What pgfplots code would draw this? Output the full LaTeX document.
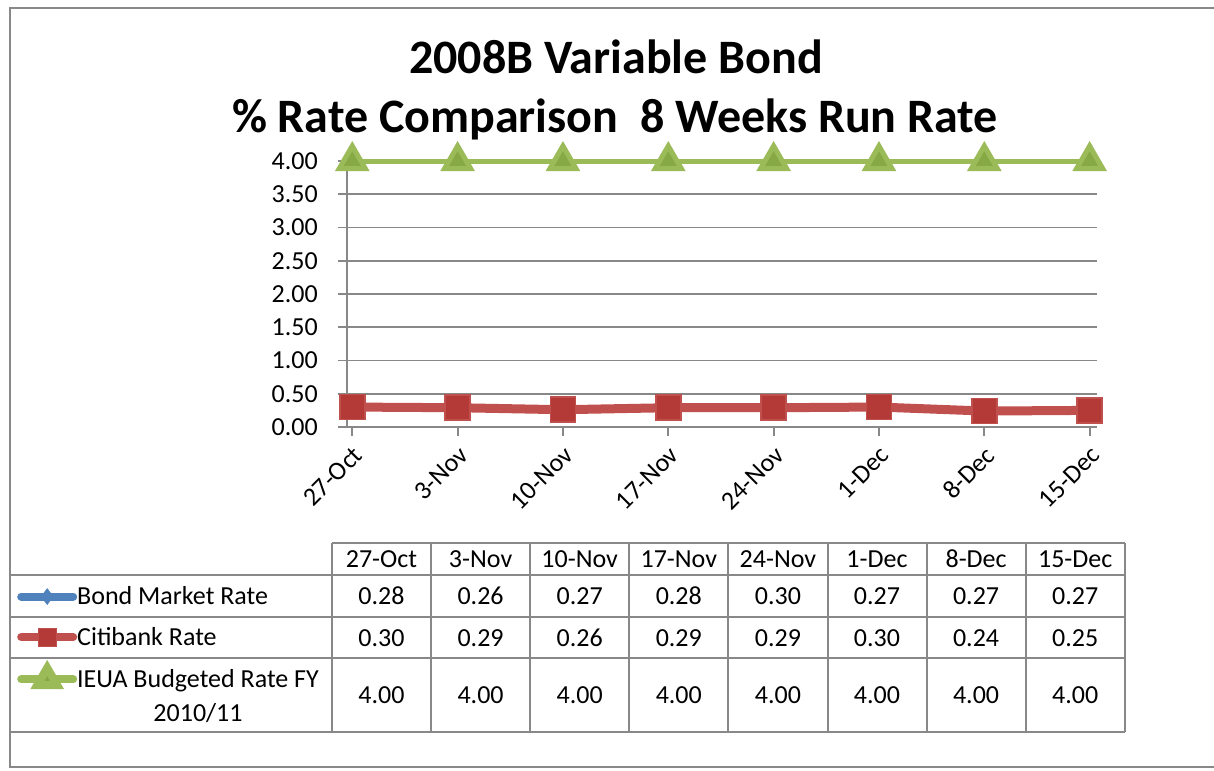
\documentclass[border=0pt]{standalone}
\usepackage{pgfplots}
\pgfplotsset{compat=1.18}
\usepackage{fontspec}
\setmainfont{Carlito}
\definecolor{ser1}{HTML}{4F81BD}
\definecolor{ser2}{HTML}{C0504D}
\definecolor{ser2d}{HTML}{B33A37}
\definecolor{ser3}{HTML}{9BBB59}
\definecolor{ser3d}{HTML}{86A845}
\definecolor{gridc}{HTML}{888888}
\newcommand{\fs}{\fontsize{26bp}{34bp}\selectfont}
\newcommand{\tfs}{\fontsize{48bp}{56bp}\selectfont\bfseries}

\pgfplotstableread{
x bond citi ieua
0 0.28 0.30 4.00
1 0.26 0.29 4.00
2 0.27 0.26 4.00
3 0.28 0.29 4.00
4 0.30 0.29 4.00
5 0.27 0.30 4.00
6 0.27 0.24 4.00
7 0.27 0.25 4.00
}\rates

\begin{document}
\begin{tikzpicture}
\useasboundingbox (0,0) rectangle (1214bp,-771bp);
\begin{scope}[x=1bp,y=-1bp]
  % outer frame
  \draw[gridc, line width=1.8bp] (10,8) rectangle (1225,767);
  % title
  \node[anchor=base, inner sep=0pt] at (616,73) {\tfs 2008B Variable Bond};
  \node[anchor=base, inner sep=0pt] at (615,132) {\tfs \% Rate Comparison\ \ 8 Weeks Run Rate};
  % table grid
  \begin{scope}[gridc, line width=1.8bp]
    \draw (332,543) -- (1125,543);
    \foreach \yy in {575,617,658,732} \draw (10,\yy) -- (1125,\yy);
    \foreach \xx in {332,431,530,629,728,828,927,1026,1125} \draw (\xx,543) -- (\xx,732);
  \end{scope}
  % table text
  \foreach \lab [count=\i from 0] in {27-Oct,3-Nov,10-Nov,17-Nov,24-Nov,1-Dec,8-Dec,15-Dec}
    \node[anchor=base, inner sep=0pt, font=\fs] at (381.5+99.1*\i,567) {\lab};
  \foreach \v [count=\i from 0] in {0.28,0.26,0.27,0.28,0.30,0.27,0.27,0.27}
    \node[anchor=base, inner sep=0pt, font=\fs] at (381.5+99.1*\i,604) {\v};
  \foreach \v [count=\i from 0] in {0.30,0.29,0.26,0.29,0.29,0.30,0.24,0.25}
    \node[anchor=base, inner sep=0pt, font=\fs] at (381.5+99.1*\i,646) {\v};
  \foreach \v [count=\i from 0] in {4.00,4.00,4.00,4.00,4.00,4.00,4.00,4.00}
    \node[anchor=base, inner sep=0pt, font=\fs] at (381.5+99.1*\i,703) {\v};
\end{scope}

\begin{axis}[
  at={(347bp,-427bp)}, anchor=south west,
  scale only axis, width=750bp, height=266bp,
  xmin=-0.05, xmax=7.07, ymin=0, ymax=4,
  axis x line*=bottom, axis y line*=left,
  axis line style={gridc, line width=1.8bp, -},
  ytick={0,0.5,1,1.5,2,2.5,3,3.5,4},
  ymajorgrids, grid style={gridc, line width=1.8bp},
  xtick={0,...,7},
  xticklabels={27-Oct,3-Nov,10-Nov,17-Nov,24-Nov,1-Dec,8-Dec,15-Dec},
  tick align=outside, major tick length=9bp,
  tick style={gridc, line width=1.8bp},
  /pgf/number format/assume math mode=true,
  yticklabel style={/pgf/number format/fixed, /pgf/number format/precision=2,
    /pgf/number format/fixed zerofill, font=\fs, inner sep=0pt, xshift=-20bp},
  xticklabel style={font=\fs, inner sep=0pt, xshift=6bp, yshift=-15bp, rotate=45, anchor=east},
  clip=false,
  legend image code/.code={\draw[mark repeat=2,mark phase=2,#1] plot coordinates {(0bp,0bp) (26bp,0bp) (52bp,0bp)};},
  legend style={at={(axis description cs:-0.44,-0.60)}, anchor=north west,
    draw=none, fill=none, font=\fs, inner sep=0pt, row sep=21bp,
    nodes={inner sep=0pt, align=center}},
  legend cell align=left,
]
\addlegendimage{ser1, line width=8bp, line cap=round, mark=diamond*, mark size=8bp, mark options={line width=0.5bp}}
\addlegendentry{Bond Market Rate}
\addlegendimage{ser2, line width=8bp, line cap=round, mark=square*, mark size=9bp, mark options={fill=ser2d, draw=ser2, line width=1bp}}
\addlegendentry{Citibank Rate}
\addlegendimage{ser3, line width=8bp, line cap=round, mark=triangle*, mark size=11.5bp, mark options={fill=ser3d, draw=none}, yshift=17bp}
\addlegendentry{IEUA Budgeted Rate FY\\2010/11}

\addplot[ser1, line width=2bp, mark=diamond*, mark size=6bp, forget plot] table[x=x, y=bond] {\rates};
\addplot[ser2, line width=9bp, mark=square*, mark size=12.5bp, mark options={fill=ser2d, draw=ser2, line width=1.5bp}, forget plot] table[x=x, y=citi] {\rates};
\addplot[ser3, line width=5bp, mark=triangle*, mark size=15bp, mark options={fill=ser3d, draw=none}, forget plot] table[x=x, y=ieua] {\rates};
\end{axis}
\end{tikzpicture}
\end{document}
